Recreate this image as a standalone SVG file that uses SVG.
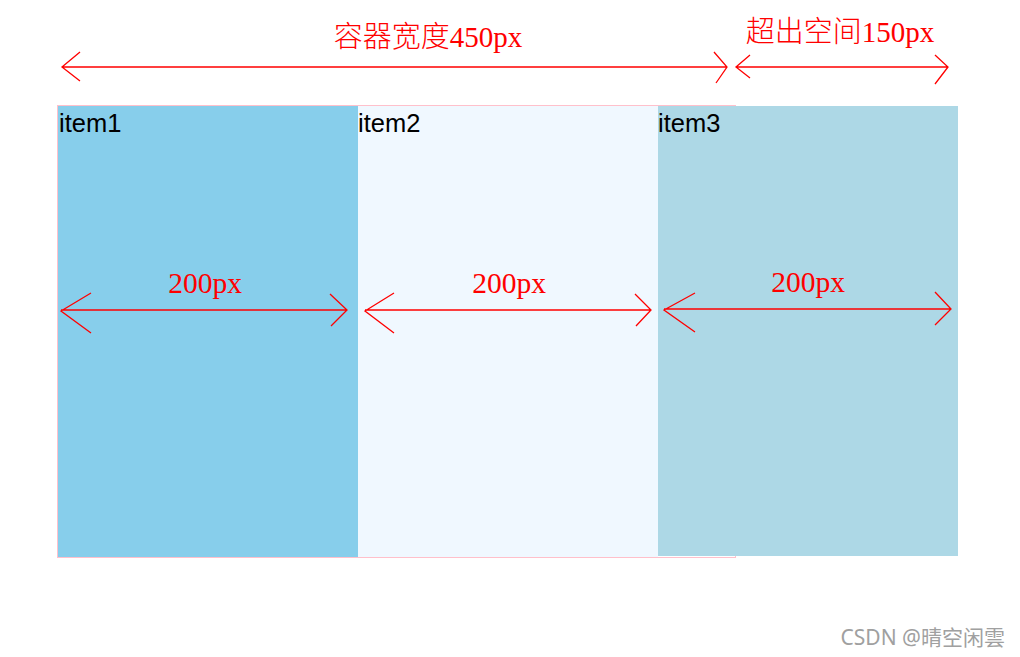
<svg xmlns="http://www.w3.org/2000/svg" width="1020" height="657" viewBox="0 0 1020 657">
<style>
.lbl{font-family:"Liberation Serif","Noto Sans CJK SC",serif;fill:#ff0000;font-weight:300}
.item{font-family:"Liberation Sans","Noto Sans",sans-serif;font-size:25.5px;fill:#000}
.arr{stroke:#ff0000;stroke-width:1.3;fill:none}
</style>
<rect width="1020" height="657" fill="#ffffff"/>
<g id="container">
<rect x="57.5" y="105.5" width="678" height="452" fill="none" stroke="#ffc0cb" stroke-width="1"/>
</g>
<g id="item1">
<rect x="58" y="106" width="300" height="451" fill="#87ceeb"/>
<text class="item" x="59" y="132">item1</text>
</g>
<g id="item2">
<rect x="358" y="106" width="300" height="451" fill="#f0f8ff"/>
<text class="item" x="358" y="132">item2</text>
</g>
<g id="item3">
<rect x="658" y="106" width="300" height="450" fill="#add8e6"/>
<text class="item" x="658" y="132">item3</text>
</g>
<g id="connectors">
<path class="arr" d="M62 67H727 M80 52L62 67L80 81 M714 52L727 67L716 83"/>
<path class="arr" d="M736 67H948 M750 55L736 67L750 78 M935 55L948 67L935 84"/>
<path class="arr" d="M61 310H347 M91 293L61 311L91 333 M330 294L347 310L331 326"/>
<path class="arr" d="M365 310H651 M394 293L365 311L394 333 M635 294L651 310L636 326"/>
<path class="arr" d="M664 309H951 M695 293L664 310L695 332 M935 292L951 309L935 325"/>
</g>
<g id="labels">
<text class="lbl" x="428" y="47" font-size="29" text-anchor="middle">容器宽度450px</text>
<text class="lbl" x="840" y="42" font-size="29" text-anchor="middle">超出空间150px</text>
<text class="lbl" x="205" y="293" font-size="29.5" text-anchor="middle">200px</text>
<text class="lbl" x="509" y="293" font-size="29.5" text-anchor="middle">200px</text>
<text class="lbl" x="808" y="292" font-size="29.5" text-anchor="middle">200px</text>
</g>
<text x="1005" y="645" font-family="'Noto Sans','Noto Sans CJK SC',sans-serif" font-size="21" fill="#a0a0a0" text-anchor="end">CSDN @晴空闲雲</text>
</svg>
